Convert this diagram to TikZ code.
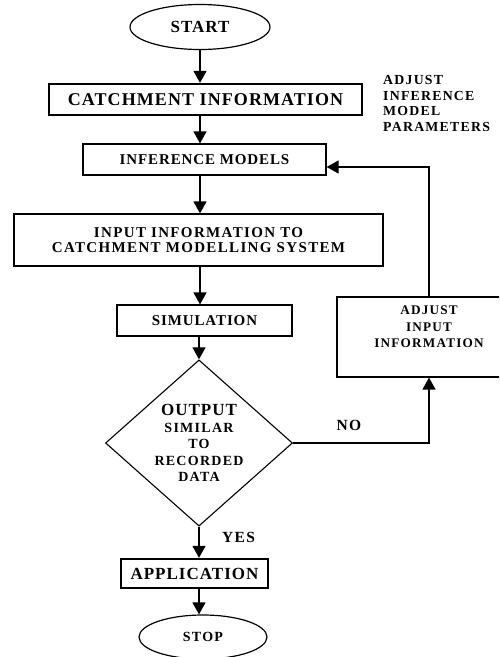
\documentclass[tikz,border=0pt]{standalone}
\usepackage{fontspec}
\setmainfont{Liberation Serif}
\newfontfamily\boxfont{Liberation Serif}[LetterSpace=6]
\newfontfamily\wideboxfont{Liberation Serif}[LetterSpace=9]
\usepackage{tikz}
\usetikzlibrary{shapes.geometric,arrows.meta}

\begin{document}
\begin{tikzpicture}[x=1pt,y=-1pt,
  box/.style={draw, line width=1.2pt, inner sep=0pt},
  heavybox/.style={box, line width=2.3pt},
  terminal/.style={draw, ellipse, line width=1.2pt, inner sep=0pt},
  decision/.style={draw, diamond, line width=1.1pt, inner sep=0pt},
  flow/.style={-{Triangle[length=12pt,width=13pt]}, line width=1.3pt}]
 \clip (0,0) rectangle (499,657);
 \node[terminal, minimum width=140, minimum height=45, font=\boxfont\bfseries\fontsize{17}{20}\selectfont] (start) at (200,27) {START};
 \node[heavybox, minimum width=313, minimum height=31, font=\boxfont\bfseries\fontsize{18}{20}\selectfont] (catch) at (205.5,99.5) {CATCHMENT INFORMATION};
 \node[box, minimum width=243, minimum height=31, font=\boxfont\bfseries\fontsize{15}{18}\selectfont] (infer) at (204.5,159.5) {INFERENCE MODELS};
 \node[box, minimum width=369, minimum height=52, align=center, font=\wideboxfont\bfseries\fontsize{15}{15.5}\selectfont] (input) at (198.5,240) {INPUT INFORMATION TO\\CATCHMENT MODELLING SYSTEM};
 \node[box, minimum width=175, minimum height=31, font=\boxfont\bfseries\fontsize{15}{18}\selectfont] (sim) at (204.5,320.5) {SIMULATION};
 \node[decision, minimum width=187, minimum height=158, align=center, font=\wideboxfont\bfseries\fontsize{14}{16.5}\selectfont] (dec) at (199,443) {{\boxfont\fontsize{17}{18}\selectfont OUTPUT}\\SIMILAR\\TO\\RECORDED\\DATA};
 \node[heavybox, minimum width=147, minimum height=29, font=\boxfont\bfseries\fontsize{17}{20}\selectfont] (app) at (194.5,573.5) {APPLICATION};
 \node[terminal, minimum width=128, minimum height=44, font=\wideboxfont\bfseries\fontsize{14}{16}\selectfont] (stop) at (203,637) {STOP};
 \node[box, minimum width=184, minimum height=80] (adjin) at (429,337) {};
 \node[align=center, inner sep=0pt, font=\wideboxfont\bfseries\fontsize{13.2}{16.5}\selectfont] (adjtxt) at (429,327) {ADJUST\\INPUT\\INFORMATION};
 \node[anchor=west, align=left, inner sep=0pt, font=\wideboxfont\bfseries\fontsize{13.8}{15.7}\selectfont] (note) at (383,103.5) {ADJUST\\INFERENCE\\MODEL\\PARAMETERS};
 \node[font=\wideboxfont\bfseries\fontsize{15.5}{18}\selectfont] (no) at (349,425) {NO};
 \node[font=\wideboxfont\bfseries\fontsize{15.5}{18}\selectfont] (yes) at (238.5,537) {YES};
 \draw[flow] (start) -- (start |- catch.north);
 \draw[flow] (catch.south -| start) -- (infer.north -| start);
 \draw[flow] (infer.south -| start) -- (input.north -| start);
 \draw[flow] (input.south -| start) -- (sim.north -| start);
 \draw[flow] (sim.south -| dec) -- (dec.north);
 \draw[flow] (dec.south) -- (dec.south |- app.north);
 \draw[flow] (app.south -| dec) -- (stop.north -| dec);
 \draw[flow] (dec.east) -| (adjin.south);
 \draw[flow] (adjin.north) |- ([yshift=-7.5pt]infer.east);
\end{tikzpicture}
\end{document}
